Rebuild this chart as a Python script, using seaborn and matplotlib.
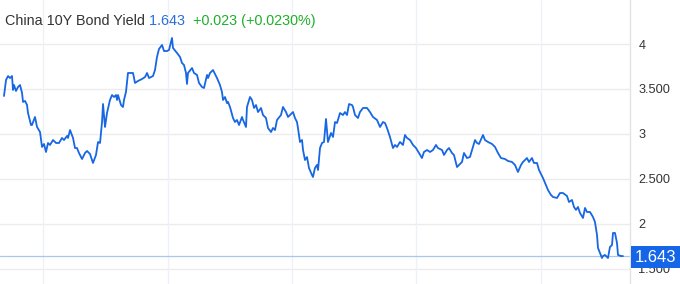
import matplotlib
matplotlib.use("Agg")
import matplotlib.pyplot as plt
import matplotlib.patches as mpatches
import seaborn as sns
import pandas as pd

# ---- data (decimal year, yield %) ----
years = [
    2015.373, 2015.406, 2015.438, 2015.470, 2015.502, 2015.518, 2015.534, 2015.566, 2015.598, 2015.631,
    2015.663, 2015.679, 2015.711, 2015.743, 2015.759, 2015.807, 2015.823, 2015.871, 2015.904, 2015.952,
    2015.984, 2016.016, 2016.048, 2016.080, 2016.112, 2016.161, 2016.209, 2016.257, 2016.305, 2016.337,
    2016.386, 2016.402, 2016.434, 2016.482, 2016.514, 2016.546, 2016.578, 2016.627, 2016.675, 2016.707,
    2016.755, 2016.803, 2016.851, 2016.884, 2016.916, 2016.948, 2016.964, 2016.996, 2017.028, 2017.076,
    2017.108, 2017.141, 2017.173, 2017.189, 2017.205, 2017.253, 2017.285, 2017.301, 2017.333, 2017.365,
    2017.414, 2017.446, 2017.478, 2017.526, 2017.590, 2017.639, 2017.671, 2017.703, 2017.767, 2017.799,
    2017.831, 2017.863, 2017.912, 2017.944, 2017.992, 2018.024, 2018.072, 2018.088, 2018.153, 2018.201,
    2018.233, 2018.265, 2018.297, 2018.313, 2018.329, 2018.394, 2018.426, 2018.474, 2018.506, 2018.554,
    2018.586, 2018.635, 2018.651, 2018.683, 2018.731, 2018.795, 2018.843, 2018.875, 2018.892, 2018.924,
    2018.956, 2018.972, 2019.004, 2019.052, 2019.084, 2019.116, 2019.149, 2019.197, 2019.213, 2019.261,
    2019.277, 2019.325, 2019.357, 2019.390, 2019.422, 2019.454, 2019.502, 2019.534, 2019.582, 2019.614,
    2019.663, 2019.695, 2019.727, 2019.759, 2019.823, 2019.855, 2019.904, 2019.936, 2019.968, 2020.016,
    2020.048, 2020.080, 2020.096, 2020.128, 2020.161, 2020.177, 2020.209, 2020.241, 2020.273, 2020.321,
    2020.337, 2020.369, 2020.402, 2020.418, 2020.450, 2020.482, 2020.514, 2020.546, 2020.578, 2020.627,
    2020.659, 2020.691, 2020.723, 2020.771, 2020.819, 2020.851, 2020.884, 2020.916, 2020.964, 2020.980,
    2021.012, 2021.044, 2021.060, 2021.092, 2021.141, 2021.205, 2021.253, 2021.301, 2021.365, 2021.414,
    2021.462, 2021.494, 2021.526, 2021.574, 2021.622, 2021.655, 2021.687, 2021.735, 2021.783, 2021.815,
    2021.847, 2021.896, 2021.944, 2021.992, 2022.040, 2022.088, 2022.120, 2022.169, 2022.217, 2022.265,
    2022.313, 2022.345, 2022.410, 2022.442, 2022.490, 2022.522, 2022.570, 2022.602, 2022.651, 2022.683,
    2022.731, 2022.763, 2022.811, 2022.859, 2022.908, 2022.940, 2022.972, 2023.004, 2023.068, 2023.100,
    2023.149, 2023.213, 2023.261, 2023.309, 2023.357, 2023.422, 2023.470, 2023.534, 2023.582, 2023.630,
    2023.679, 2023.711, 2023.775, 2023.807, 2023.855, 2023.887, 2023.936, 2023.968, 2024.032, 2024.080,
    2024.112, 2024.161, 2024.193, 2024.257, 2024.305, 2024.353, 2024.418, 2024.450, 2024.498, 2024.530,
    2024.562, 2024.594, 2024.627, 2024.675, 2024.707, 2024.739, 2024.787, 2024.835, 2024.867, 2024.900,
    2024.916, 2024.948, 2024.980, 2024.996, 2025.028, 2025.076, 2025.108, 2025.141, 2025.157, 2025.189,
    2025.221, 2025.237, 2025.285, 2025.317,
]
yields = [
    3.422, 3.600, 3.644, 3.622, 3.644, 3.489, 3.544, 3.478, 3.522, 3.544,
    3.456, 3.356, 3.367, 3.322, 3.233, 3.100, 3.100, 3.189, 3.078, 3.022,
    2.856, 2.889, 2.800, 2.900, 2.878, 2.933, 2.900, 2.900, 2.956, 2.933,
    2.978, 2.956, 3.044, 2.956, 2.844, 2.844, 2.789, 2.722, 2.789, 2.811,
    2.778, 2.678, 2.767, 2.911, 2.900, 3.133, 3.333, 3.078, 3.233, 3.378,
    3.433, 3.411, 3.433, 3.378, 3.433, 3.322, 3.300, 3.378, 3.467, 3.678,
    3.678, 3.678, 3.567, 3.589, 3.611, 3.633, 3.678, 3.622, 3.644, 3.711,
    3.856, 3.944, 3.989, 3.922, 3.922, 3.933, 4.067, 3.956, 3.900, 3.856,
    3.789, 3.767, 3.678, 3.556, 3.678, 3.733, 3.678, 3.656, 3.567, 3.522,
    3.511, 3.656, 3.622, 3.678, 3.711, 3.622, 3.544, 3.467, 3.378, 3.411,
    3.344, 3.356, 3.300, 3.178, 3.133, 3.156, 3.100, 3.189, 3.156, 3.078,
    3.300, 3.411, 3.378, 3.289, 3.322, 3.244, 3.289, 3.211, 3.178, 3.067,
    3.022, 3.067, 3.044, 3.156, 3.211, 3.300, 3.244, 3.189, 3.211, 3.244,
    3.178, 3.133, 3.067, 2.911, 2.933, 2.822, 2.711, 2.744, 2.622, 2.544,
    2.522, 2.622, 2.656, 2.600, 2.844, 2.900, 2.911, 3.167, 2.911, 3.011,
    2.967, 3.133, 3.122, 3.233, 3.211, 3.244, 3.211, 3.333, 3.322, 3.300,
    3.211, 3.189, 3.178, 3.244, 3.289, 3.289, 3.244, 3.189, 3.156, 3.078,
    3.133, 3.122, 3.067, 2.967, 2.844, 2.878, 2.856, 2.911, 2.878, 2.989,
    2.956, 2.933, 2.878, 2.844, 2.789, 2.733, 2.800, 2.822, 2.800, 2.822,
    2.878, 2.844, 2.822, 2.767, 2.822, 2.844, 2.789, 2.767, 2.633, 2.656,
    2.689, 2.789, 2.733, 2.744, 2.856, 2.933, 2.900, 2.889, 2.989, 2.933,
    2.911, 2.889, 2.856, 2.789, 2.733, 2.722, 2.700, 2.689, 2.656, 2.578,
    2.656, 2.689, 2.733, 2.689, 2.733, 2.678, 2.678, 2.600, 2.511, 2.433,
    2.378, 2.322, 2.300, 2.289, 2.344, 2.344, 2.311, 2.244, 2.267, 2.189,
    2.156, 2.189, 2.122, 2.067, 2.178, 2.133, 2.133, 2.078, 2.022, 1.878,
    1.733, 1.678, 1.622, 1.644, 1.656, 1.622, 1.744, 1.767, 1.900, 1.900,
    1.789, 1.656, 1.644, 1.643,
]
ytick_values = [1.5, 2.0, 2.5, 3.0, 3.5, 4.0]
ytick_labels = ["1.500", "2", "2.500", "3", "3.500", "4"]
xgrid_years = [2016, 2018, 2020, 2022, 2024]
last_value = 1.643
title_name = "China 10Y Bond Yield"
title_price = "1.643"
title_change = "+0.023 (+0.0230%)"

df = pd.DataFrame({"year": years, "yield": yields})

sns.set_style("white")
plt.rcParams["font.family"] = ["Liberation Sans", "DejaVu Sans"]

W, H = 680, 284
fig = plt.figure(figsize=(W / 100, H / 100), dpi=100)
ax = fig.add_axes([0, 0, 630 / W, 1])

line_color = "#1766e3"
sns.lineplot(data=df, x="year", y="yield", ax=ax, color=line_color, linewidth=1.3)

ax.set_xlim(2015.309, 2025.430)
ax.set_ylim(1.333, 4.489)

# grid
for v in ytick_values:
    ax.axhline(v, color="#ececec", linewidth=1.0, zorder=0)
for yr in xgrid_years:
    ax.axvline(yr, color="#eef2f7", linewidth=1.0, zorder=0)

ax.axhline(last_value, color="#a8c6ee", linewidth=0.9, zorder=1)

for s in ["top", "left", "bottom"]:
    ax.spines[s].set_visible(False)
ax.spines["right"].set_color("#e4e4e4")
ax.spines["right"].set_linewidth(1.0)

ax.set_xticks([])
ax.yaxis.tick_right()
ax.set_yticks(ytick_values)
ax.set_yticklabels(ytick_labels)
ax.tick_params(axis="y", length=0, pad=6, labelsize=9.2, labelcolor="#333333")
ax.set_xlabel("")
ax.set_ylabel("")

# title
t1 = ax.text(5 / 630, 1 - 21 / H, title_name, transform=ax.transAxes,
             fontsize=10.4, color="#333333", va="center", ha="left")
t2 = ax.annotate(" " + title_price, xy=(1, 0.5), xycoords=t1, va="center", ha="left",
                 fontsize=10.4, color="#2a6fdb")
t3 = ax.annotate("  " + title_change, xy=(1, 0.5), xycoords=t2, va="center", ha="left",
                 fontsize=10.4, color="#1fb02a")

# last price box
rect = mpatches.Rectangle((631 / W, 1 - 268 / H), 49 / W, 22 / H, transform=fig.transFigure,
                          facecolor="#1565e8", edgecolor="none", zorder=5)
fig.patches.append(rect)
fig.text(655.5 / W, 1 - 257 / H, title_price, color="white", fontsize=12,
         ha="center", va="center", zorder=6)

fig.savefig("out.png", dpi=100)
